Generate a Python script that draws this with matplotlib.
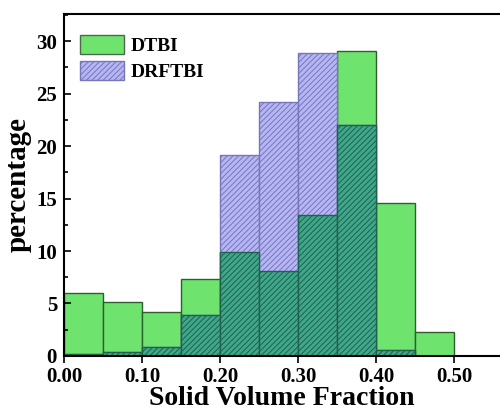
import numpy as np
import matplotlib.pyplot as plt
from matplotlib.ticker import MultipleLocator
from matplotlib.patches import Patch

# histogram bins (solid volume fraction) and percentages
bin_edges = [0.00, 0.05, 0.10, 0.15, 0.20, 0.25, 0.30, 0.35, 0.40, 0.45, 0.50]
dtbi = [6.0, 5.1, 4.15, 7.35, 9.9, 8.1, 13.4, 29.05, 14.6, 2.3]
drftbi = [0.2, 0.35, 0.85, 3.9, 19.2, 24.2, 28.85, 22.05, 0.6, 0.0]

green = '#6ee46e'
blue = '#b6b6f6'
teal = '#3ea88a'

plt.rcParams['font.family'] = 'Liberation Serif'
plt.rcParams['font.weight'] = 'bold'
plt.rcParams['hatch.linewidth'] = 0.7

fig = plt.figure(figsize=(5, 4.11), dpi=100)
ax = fig.add_axes([0.128, 0.134, 0.872, 0.832])

left = np.array(bin_edges[:-1])
width = np.diff(bin_edges)
g = np.array(dtbi)
b = np.array(drftbi)
overlap = np.minimum(g, b)

ax.bar(left, g, width=width, align='edge', color=green, edgecolor='#2f5f2f', linewidth=1)
ax.bar(left, b, width=width, align='edge', color=blue, edgecolor='#7676b8', linewidth=1, hatch='//////')
ax.bar(left, overlap, width=width, align='edge', color=teal, edgecolor='#22604e', linewidth=1, hatch='//////')

ax.set_xlim(0, 0.559)
ax.set_ylim(0, 32.6)
ax.set_xticks([0.0, 0.1, 0.2, 0.3, 0.4, 0.5])
ax.set_xticklabels(['0.00', '0.10', '0.20', '0.30', '0.40', '0.50'])
ax.yaxis.set_major_locator(MultipleLocator(5))
ax.yaxis.set_minor_locator(MultipleLocator(2.5))
ax.tick_params(axis='y', which='both', direction='in', labelsize=15, width=1.2, pad=5)
ax.tick_params(axis='y', which='major', length=5)
ax.tick_params(axis='y', which='minor', length=3)
ax.tick_params(axis='x', direction='out', labelsize=15, width=1.2, length=5, pad=3)
ax.spines['right'].set_visible(False)
for s in ['left', 'bottom', 'top']:
    ax.spines[s].set_linewidth(1.5)

ax.set_xlabel('Solid Volume Fraction', fontsize=20, fontweight='bold', labelpad=-1)
ax.set_ylabel('percentage', fontsize=21, fontweight='bold', labelpad=3)

handles = [Patch(facecolor=green, edgecolor='#4a6a4a', label='DTBI'),
           Patch(facecolor=blue, edgecolor='#7676b8', hatch='//////', label='DRFTBI')]
ax.legend(handles=handles, loc='upper left', frameon=False, fontsize=14,
          handlelength=2.3, handleheight=1.15, handletextpad=0.3,
          labelspacing=0.3, borderaxespad=0, bbox_to_anchor=(0.018, 0.962))

fig.savefig('out.png', dpi=100)
